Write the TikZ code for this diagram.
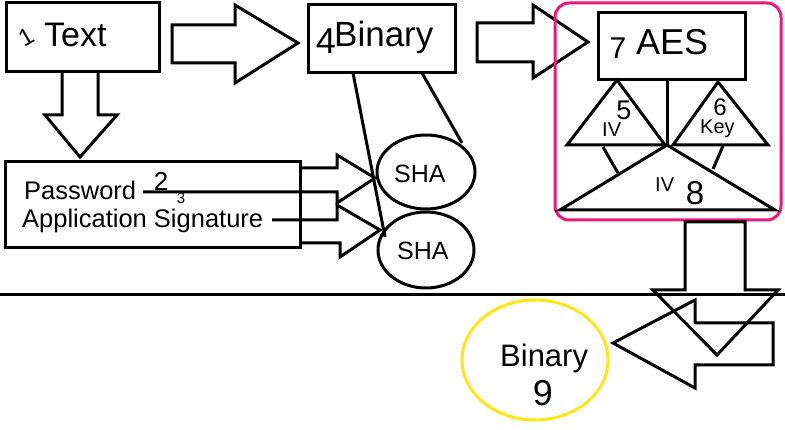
\documentclass[tikz,border=0pt]{standalone}
\usepackage{fontspec}
\setmainfont{Liberation Sans}
\usetikzlibrary{shapes.geometric,calc}
\definecolor{pinkc}{HTML}{EE1A7A}
\definecolor{yelc}{HTML}{FFE619}
\begin{document}
\begin{tikzpicture}[x=1pt,y=-1pt,
  ln/.style={line width=3pt, line join=miter},
  boxn/.style={draw, line width=3pt, rectangle, inner sep=0pt, outer sep=0pt},
  elln/.style={draw, line width=3pt, ellipse, inner sep=0pt, outer sep=0pt},
  lbl/.style={font=\fontsize{#1}{#1}\selectfont, inner sep=0pt, anchor=base west},
  hd/.style={font=\fontsize{#1}{#1}\selectfont, inner sep=0pt}]
\useasboundingbox (0,0) rectangle (785,430);
\fill[white] (0,0) rectangle (785,430);

% Text box
\node[boxn, minimum width=153pt, minimum height=69pt] (txt) at (82.5,37.5) {};
\node[lbl=34] (txtl) at (44,47) {Text};
\node[hd=24, rotate=30] (d1) at (26,37) {1};

% arrow Text -> Binary
\draw[ln] (172,25) -- (235,25) -- (235,5) -- (298,43) -- (235,83) -- (235,63) -- (172,63) -- cycle;

% Binary box
\node[boxn, minimum width=147pt, minimum height=68pt] (bin) at (381.5,39) {};
\node[lbl=35] (binl) at (334,47) {Binary};
\node[hd=36] (d4) at (326,41) {4};

% arrow Binary -> AES
\draw[ln] (477,23) -- (533,23) -- (533,5) -- (588,42) -- (533,78) -- (533,62) -- (477,62) -- cycle;

% pink group
\draw[pinkc, line width=3pt, rounded corners=14pt] (555,3) rectangle (781,220);
\node[boxn, minimum width=147pt, minimum height=67pt] (aes) at (671.5,46.5) {};
\node[lbl=36] (aesl) at (636,55) {AES};
\node[hd=30] (d7) at (618,48) {7};

\coordinate (jn) at (667,145);
\draw[ln] (667,80) -- (jn);
\draw[ln] (617,80) -- (567,145) -- (665,145) -- cycle;
\draw[ln] (718,82) -- (673,145) -- (768,145) -- cycle;
\draw[ln] (jn) -- (560,210) -- (775,210) -- cycle;
\draw[ln] (603,147) -- (618,173);
\draw[ln] (723,146) -- (713,169);
\node[lbl=20] (iv1) at (602,137) {IV};
\node[lbl=20] (key) at (700,134) {Key};
\node[lbl=20] (iv2) at (655,192) {IV};
\node[hd=27] (d5) at (624,110) {5};
\node[hd=24] (d6) at (720,107) {6};
\node[hd=33] (d8) at (695,193) {8};

% down arrow Text -> Password
\draw[ln] (62,72) -- (62,115) -- (45,115) -- (80,157) -- (117,115) -- (98,115) -- (98,72);

% Password box
\node[boxn, minimum width=295pt, minimum height=86pt] (pw) at (152.5,205) {};
\node[lbl=25.5] (pwl) at (24,200) {Password};
\node[lbl=25.5] (apl) at (22,228) {Application Signature};
\node[hd=26] (d2) at (161,181) {2};
\node[hd=15] (d3) at (181,198) {3};

% SHA ellipses
\node[elln, minimum width=98pt, minimum height=74pt] (sha1) at (426,172) {};
\node[lbl=25] (sha1l) at (394,183) {SHA};
\node[elln, minimum width=96pt, minimum height=76pt] (sha2) at (426,250) {};
\node[lbl=25] (sha2l) at (397,260) {SHA};

% arrows Password -> SHA
\draw[ln] (300,168) -- (337,168) -- (337,155) -- (375,178) -- (337,203) -- (337,192) -- (143,192);
\draw[ln] (272,220) -- (337,220) -- (337,205) -- (380,230) -- (340,257) -- (340,243) -- (300,243);

% Binary -> SHA lines
\draw[ln] ([xshift=45pt]bin.south west) -- (385,237);
\draw[ln] ([xshift=114pt]bin.south west) -- (462,143);

% horizontal divider
\draw[line width=3pt] (0,295) -- (785,295);

% bottom arrows
\draw[ln] (685,222) -- (685,290) -- (653,290) -- (717,355) -- (778,290) -- (745,290) -- (745,222) -- cycle;
\draw[ln] (773,323) -- (695,323) -- (695,300) -- (613,343) -- (695,388) -- (695,365) -- (773,365) -- cycle;

% result
\node[draw=yelc, line width=3pt, ellipse, inner sep=0pt, minimum width=146pt, minimum height=120pt] (res) at (535,360) {};
\node[lbl=31] (resl) at (500,367) {Binary};
\node[hd=36] (d9) at (543,393) {9};
\end{tikzpicture}
\end{document}
